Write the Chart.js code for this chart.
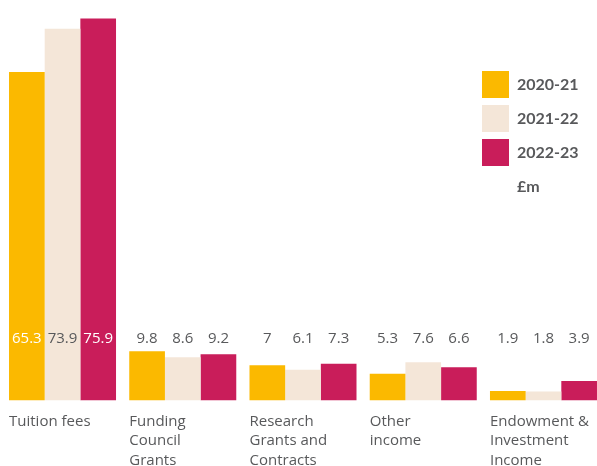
<!DOCTYPE html>
<html>
<head>
<meta charset="utf-8">
<script src="https://cdn.jsdelivr.net/npm/chart.js@4.4.1/dist/chart.umd.min.js"></script>
<style>
  html, body { margin: 0; padding: 0; background: #ffffff; overflow: hidden; }
  #wrap { width: 604px; height: 466px; }
</style>
</head>
<body>
<div id="wrap"><canvas id="c" width="604" height="466" style="width:604px;height:466px"></canvas></div>
<script>
// ---- data ----
const categories = [
  ['Tuition fees'],
  ['Funding', 'Council', 'Grants'],
  ['Research', 'Grants and', 'Contracts'],
  ['Other', 'income'],
  ['Endowment &', 'Investment', 'Income']
];
const seriesLabels = ['2020-21', '2021-22', '2022-23'];
const values2020 = [65.3, 9.8, 7, 5.3, 1.9];
const values2021 = [73.9, 8.6, 6.1, 7.6, 1.8];
const values2022 = [75.9, 9.2, 7.3, 6.6, 3.9];
const unitLabel = '£m';

// ---- style ----
const colors = ['#FBB900', '#F4E6D8', '#C91D5A'];
const textGray = '#58595B';
const axisFont = '"Open Sans", Lato, sans-serif';
const legendFontFamily = 'Lato, "Open Sans", sans-serif';

const valueLabels = {
  id: 'valueLabels',
  afterDatasetsDraw(chart) {
    const ctx = chart.ctx;
    const area = chart.chartArea;
    const baseY = area.bottom - 57.5;
    ctx.save();
    ctx.font = '15px ' + axisFont;
    ctx.textAlign = 'center';
    ctx.textBaseline = 'alphabetic';
    chart.data.datasets.forEach((ds, di) => {
      const meta = chart.getDatasetMeta(di);
      meta.data.forEach((bar, i) => {
        const inside = bar.y < baseY - 14;
        ctx.fillStyle = (inside && di !== 1) ? '#ffffff' : textGray;
        ctx.fillText(String(ds.data[i]), bar.x, baseY);
      });
    });
    ctx.restore();
  }
};

const legendPlacer = {
  id: 'legendPlacer',
  afterLayout(chart) {
    const lg = chart.legend;
    if (!lg) return;
    lg.left = 475;
    lg.top = 64;
    lg.right = 604;
    lg.bottom = 300;
    lg.width = lg.right - lg.left;
    lg.height = lg.bottom - lg.top;
  }
};

new Chart(document.getElementById('c'), {
  type: 'bar',
  data: {
    labels: categories,
    datasets: [
      { label: seriesLabels[0], data: values2020, backgroundColor: colors[0], borderWidth: 0 },
      { label: seriesLabels[1], data: values2021, backgroundColor: colors[1], borderWidth: 0 },
      { label: seriesLabels[2], data: values2022, backgroundColor: colors[2], borderWidth: 0 }
    ]
  },
  options: {
    responsive: false,
    animation: false,
    devicePixelRatio: 1,
    layout: { padding: { left: 2.4, right: 0.4, top: 0, bottom: 0 } },
    datasets: { bar: { categoryPercentage: 0.89, barPercentage: 1.0 } },
    scales: {
      x: {
        grid: { display: false, drawTicks: false },
        border: { display: false },
        ticks: {
          color: textGray,
          font: { family: axisFont, size: 15, lineHeight: 1.3 },
          align: 'start',
          labelOffset: -53.5,
          padding: 11,
          autoSkip: false,
          maxRotation: 0,
          minRotation: 0
        },
        afterFit(scale) {
          scale.height = 65.5;
          scale.paddingLeft = 0;
          scale.paddingRight = 0;
        }
      },
      y: {
        display: false,
        min: 0,
        max: 79.6
      }
    },
    plugins: {
      tooltip: { enabled: false },
      legend: {
        position: 'chartArea',
        align: 'start',
        onClick: null,
        labels: {
          boxWidth: 27,
          boxHeight: 27,
          padding: 7,
          color: textGray,
          font: { family: legendFontFamily, size: 16, weight: 'bold' },
          generateLabels(chart) {
            const items = Chart.defaults.plugins.legend.labels.generateLabels(chart);
            items.forEach(it => { it.lineWidth = 0; it.fontColor = textGray; });
            items.push({
              text: unitLabel,
              fillStyle: 'rgba(0,0,0,0)',
              strokeStyle: 'rgba(0,0,0,0)',
              lineWidth: 0,
              hidden: false,
              fontColor: textGray
            });
            return items;
          }
        }
      }
    }
  },
  plugins: [valueLabels, legendPlacer]
});
</script>
</body>
</html>
